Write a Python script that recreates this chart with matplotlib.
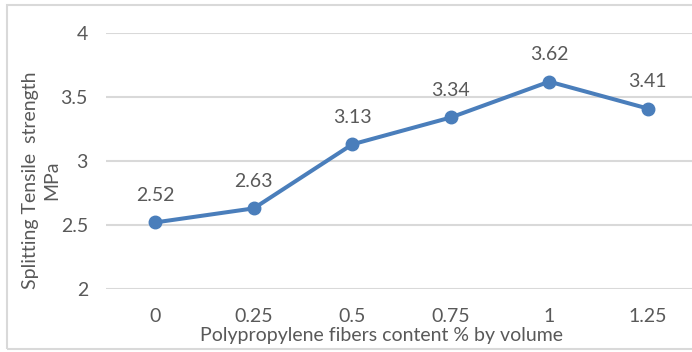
import matplotlib
matplotlib.use("Agg")
import matplotlib.pyplot as plt
from matplotlib.patches import Rectangle

fiber_content = ["0", "0.25", "0.5", "0.75", "1", "1.25"]
tensile_strength = [2.52, 2.63, 3.13, 3.34, 3.62, 3.41]
y_ticks = [2, 2.5, 3, 3.5, 4]

W, H = 692, 352
plt.rcParams["font.family"] = ["Lato", "DejaVu Sans"]
text_color = "#595959"
line_color = "#4a7ebb"
grid_color = "#d9d9d9"
fs = 14

fig = plt.figure(figsize=(W / 100, H / 100), dpi=100)

# chart border
fig.patches.append(Rectangle((7 / W, 1 - 349 / H), 1.2, (349 - 5) / H,
                             transform=fig.transFigure, fill=False,
                             edgecolor=grid_color, linewidth=1.5))

left, right = 106, 697
top, bottom = 33, 289
ax = fig.add_axes([left / W, 1 - bottom / H, (right - left) / W, (bottom - top) / H])

x = list(range(len(fiber_content)))
ax.plot(x, tensile_strength, color=line_color, linewidth=2.9,
        marker="o", markersize=9, zorder=3, clip_on=False)
for xi, v in zip(x, tensile_strength):
    ax.annotate(f"{v:.2f}", (xi, v), xytext=(0, 19.5), textcoords="offset points",
                ha="center", va="center", fontsize=fs, color=text_color)

ax.set_xlim(-0.5, len(x) - 0.5)
ax.set_ylim(2, 4)
ax.set_yticks(y_ticks)
ax.set_yticklabels([f"{t:g}" for t in y_ticks])
ax.set_xticks(x)
ax.set_xticklabels(fiber_content)
ax.tick_params(length=0, labelsize=fs, labelcolor=text_color)
ax.tick_params(axis="x", pad=14)
ax.tick_params(axis="y", pad=13)
ax.grid(axis="y", color=grid_color, linewidth=1.5)
ax.set_axisbelow(True)
for s in ax.spines.values():
    s.set_visible(False)

fig.text(381 / W, 1 - 335 / H, "Polypropylene fibers content % by volume",
         ha="center", va="center", fontsize=fs, color=text_color)
fig.text(41 / W, 1 - 180 / H, "Splitting Tensile  strength\nMPa",
         ha="center", va="center", rotation=90, multialignment="center",
         fontsize=fs, color=text_color, linespacing=1.3)

fig.savefig("out.png", dpi=100)
